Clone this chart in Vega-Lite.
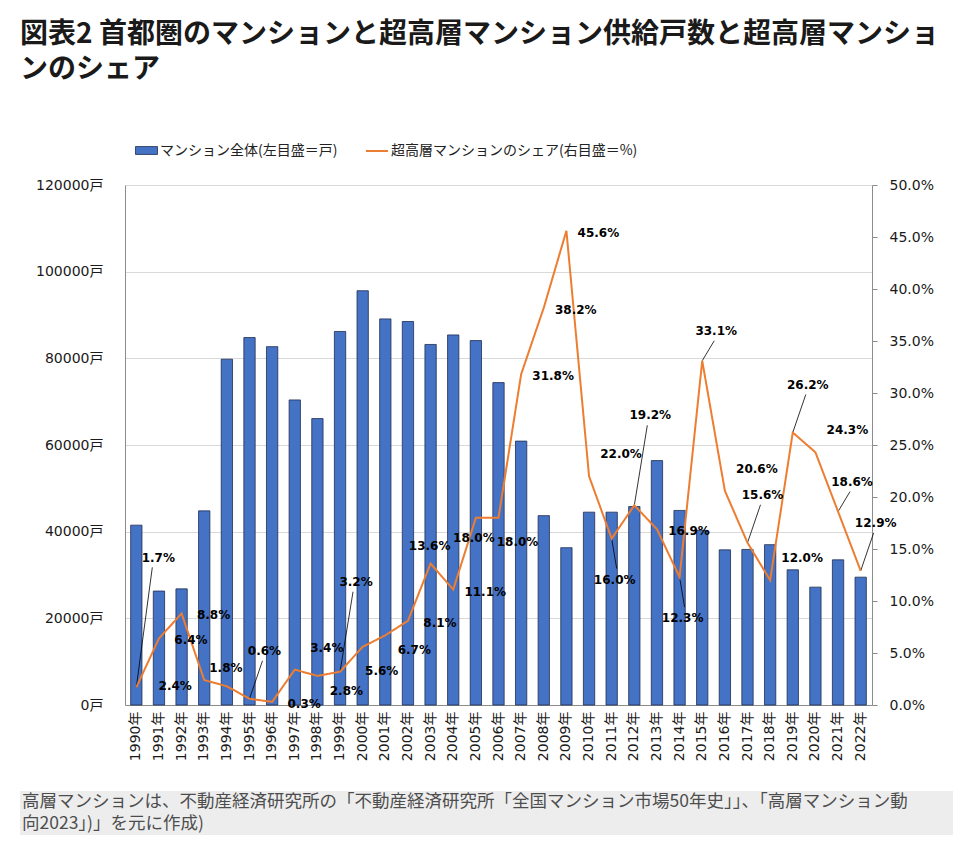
{
  "$schema": "https://vega.github.io/schema/vega-lite/v6.json",
  "padding": {"left": 20, "top": 21, "right": 8, "bottom": 5},
  "autosize": {"type": "pad"},
  "width": 747,
  "height": 520,
  "config": {
    "view": {"stroke": null},
    "style": {
      "lbl": {"font": "DejaVu Sans", "fontSize": 12, "fontWeight": "bold", "fill": "#262626", "align": "center", "baseline": "middle"},
      "lead": {"stroke": "#404040", "strokeWidth": 0.8}
    }
  },
  "title": {
    "text": ["図表2 首都圏のマンションと超高層マンション供給戸数と超高層マンショ", "ンのシェア"],
    "anchor": "start",
    "frame": "group",
    "dx": -105,
    "offset": 55,
    "font": "Noto Sans CJK JP",
    "fontSize": 28,
    "fontWeight": "bold",
    "color": "#1a1a1a",
    "lineHeight": 35
  },
  "data": {
    "values": [
      {"year": "1990年", "units": 41500, "share": 0.017},
      {"year": "1991年", "units": 26300, "share": 0.064},
      {"year": "1992年", "units": 26800, "share": 0.088},
      {"year": "1993年", "units": 44800, "share": 0.024},
      {"year": "1994年", "units": 79800, "share": 0.018},
      {"year": "1995年", "units": 84800, "share": 0.006},
      {"year": "1996年", "units": 82700, "share": 0.003},
      {"year": "1997年", "units": 70400, "share": 0.034},
      {"year": "1998年", "units": 66100, "share": 0.028},
      {"year": "1999年", "units": 86200, "share": 0.032},
      {"year": "2000年", "units": 95600, "share": 0.056},
      {"year": "2001年", "units": 89100, "share": 0.067},
      {"year": "2002年", "units": 88500, "share": 0.081},
      {"year": "2003年", "units": 83200, "share": 0.136},
      {"year": "2004年", "units": 85400, "share": 0.111},
      {"year": "2005年", "units": 84100, "share": 0.180},
      {"year": "2006年", "units": 74400, "share": 0.180},
      {"year": "2007年", "units": 60900, "share": 0.318},
      {"year": "2008年", "units": 43700, "share": 0.382},
      {"year": "2009年", "units": 36300, "share": 0.456},
      {"year": "2010年", "units": 44500, "share": 0.220},
      {"year": "2011年", "units": 44500, "share": 0.160},
      {"year": "2012年", "units": 45800, "share": 0.192},
      {"year": "2013年", "units": 56400, "share": 0.169},
      {"year": "2014年", "units": 44900, "share": 0.123},
      {"year": "2015年", "units": 40300, "share": 0.331},
      {"year": "2016年", "units": 35800, "share": 0.206},
      {"year": "2017年", "units": 35900, "share": 0.156},
      {"year": "2018年", "units": 37000, "share": 0.120},
      {"year": "2019年", "units": 31200, "share": 0.262},
      {"year": "2020年", "units": 27200, "share": 0.243},
      {"year": "2021年", "units": 33500, "share": 0.186},
      {"year": "2022年", "units": 29500, "share": 0.129}
    ]
  },
  "encoding": {
    "x": {
      "field": "year",
      "type": "ordinal",
      "sort": null,
      "scale": {"paddingInner": 0.5, "paddingOuter": 0.25},
      "axis": {
        "title": null,
        "labelAngle": -90,
        "labelFont": "DejaVu Sans, Noto Sans CJK JP",
        "labelFontSize": 14,
        "labelColor": "#1a1a1a",
        "labelPadding": 6,
        "ticks": false,
        "tickSize": 0,
        "domainColor": "#8c8c8c",
        "grid": false
      }
    }
  },
  "layer": [
    {
      "mark": {"type": "bar", "stroke": "#1f2d50", "strokeWidth": 0.8},
      "encoding": {
        "y": {
          "field": "units",
          "type": "quantitative",
          "scale": {"domain": [0, 120000], "nice": false},
          "axis": {
            "title": null,
            "values": [0, 20000, 40000, 60000, 80000, 100000, 120000],
            "labelExpr": "datum.value + '戸'",
            "labelFont": "DejaVu Sans, Noto Sans CJK JP",
            "labelFontSize": 14,
            "labelColor": "#1a1a1a",
            "labelPadding": 22,
            "ticks": false,
            "tickSize": 0,
            "grid": true,
            "gridColor": "#d9d9d9",
            "domainColor": "#8c8c8c"
          }
        },
        "fill": {
          "datum": "マンション全体(左目盛＝戸)",
          "scale": {"domain": ["マンション全体(左目盛＝戸)"], "range": ["#4472C4"]},
          "legend": {
            "orient": "none",
            "legendX": 10,
            "legendY": -46,
            "title": null,
            "padding": 0,
            "symbolType": "M-1,-0.36H1V0.36H-1Z",
            "symbolSize": 484,
            "symbolStrokeColor": "#1f2d50",
            "symbolStrokeWidth": 0.8,
            "labelFont": "Noto Sans CJK JP",
            "labelFontSize": 14,
            "labelColor": "#222222",
            "labelOffset": 2,
            "labelLimit": 400
          }
        }
      }
    },
    {
      "encoding": {
        "y": {
          "field": "share",
          "type": "quantitative",
          "scale": {"domain": [0, 0.5], "nice": false},
          "axis": {
            "orient": "right",
            "title": null,
            "values": [0, 0.05, 0.1, 0.15, 0.2, 0.25, 0.3, 0.35, 0.4, 0.45, 0.5],
            "format": ".1%",
            "labelFont": "DejaVu Sans",
            "labelFontSize": 14,
            "labelColor": "#1a1a1a",
            "labelPadding": 12,
            "ticks": true,
            "tickSize": 5,
            "tickColor": "#8c8c8c",
            "domainColor": "#8c8c8c",
            "grid": false
          }
        }
      },
      "layer": [
        {
          "transform": [{"filter": {"field": "year", "oneOf": ["1995年", "2017年", "2019年", "2022年"]}}],
          "mark": {"type": "rule", "style": "lead", "x2Offset": 13, "y2Offset": -38},
          "encoding": {"x2": {"field": "year", "bandPosition": 0.5}, "y2": {"field": "share"}}
        },
        {
          "transform": [{"filter": {"field": "year", "oneOf": ["2015年", "2021年"]}}],
          "mark": {"type": "rule", "style": "lead", "x2Offset": 12, "y2Offset": -20},
          "encoding": {"x2": {"field": "year", "bandPosition": 0.5}, "y2": {"field": "share"}}
        },
        {
          "transform": [{"filter": {"field": "year", "oneOf": ["1999年", "2012年"]}}],
          "mark": {"type": "rule", "style": "lead", "x2Offset": 13, "y2Offset": -80},
          "encoding": {"x2": {"field": "year", "bandPosition": 0.5}, "y2": {"field": "share"}}
        },
        {
          "transform": [{"filter": {"field": "year", "oneOf": ["2011年", "2014年"]}}],
          "mark": {"type": "rule", "style": "lead", "x2Offset": 5, "y2Offset": 30},
          "encoding": {"x2": {"field": "year", "bandPosition": 0.5}, "y2": {"field": "share"}}
        },
        {
          "transform": [{"filter": {"field": "year", "oneOf": ["1990年"]}}],
          "mark": {"type": "rule", "style": "lead", "x2Offset": 16, "y2Offset": -120},
          "encoding": {"x2": {"field": "year", "bandPosition": 0.5}, "y2": {"field": "share"}}
        },
        {
          "mark": {"type": "line", "strokeWidth": 2},
          "encoding": {
            "stroke": {
              "datum": "超高層マンションのシェア(右目盛＝%)",
              "scale": {"domain": ["超高層マンションのシェア(右目盛＝%)"], "range": ["#ED7D31"]},
              "legend": {
                "orient": "none",
                "legendX": 240,
                "legendY": -46,
                "title": null,
                "padding": 0,
                "symbolType": "M-1,0H1",
                "symbolSize": 484,
                "symbolStrokeWidth": 2,
                "labelFont": "Noto Sans CJK JP",
                "labelFontSize": 14,
                "labelColor": "#222222",
                "labelOffset": 2,
                "labelLimit": 400
              }
            },
            "strokeDash": {
              "datum": "出典",
              "scale": {"domain": ["出典"], "range": [[1, 0]]},
              "legend": {
                "orient": "none",
                "legendX": -105,
                "legendY": 606,
                "title": ["高層マンションは、不動産経済研究所の「不動産経済研究所「全国マンション市場50年史」」、「高層マンション動", "向2023」)」を元に作成)"],
                "titleFont": "Noto Sans CJK JP",
                "titleFontSize": 17.5,
                "titleFontWeight": "normal",
                "titleColor": "#4d4d4d",
                "titleLineHeight": 22,
                "titleLimit": 1000,
                "titlePadding": 0,
                "titleBaseline": "top",
                "fillColor": "#ededed",
                "padding": 2,
                "symbolOpacity": 0,
                "symbolStrokeWidth": 0,
                "symbolSize": 1,
                "symbolOffset": 924,
                "labelExpr": "''",
                "labelFontSize": 1
              }
            }
          }
        },
        {
          "transform": [{"filter": {"field": "year", "oneOf": ["1991年", "1992年", "1996年", "2002年", "2004年", "2007年", "2008年", "2009年", "2013年"]}}],
          "mark": {"type": "text", "style": "lbl", "dx": 32, "dy": 2},
          "encoding": {"text": {"field": "share", "format": ".1%"}}
        },
        {
          "transform": [{"filter": {"field": "year", "oneOf": ["1998年", "2001年"]}}],
          "mark": {"type": "text", "style": "lbl", "dx": 29, "dy": 15},
          "encoding": {"text": {"field": "share", "format": ".1%"}}
        },
        {
          "transform": [{"filter": {"field": "year", "oneOf": ["2000年", "2006年"]}}],
          "mark": {"type": "text", "style": "lbl", "dx": 19, "dy": 24},
          "encoding": {"text": {"field": "share", "format": ".1%"}}
        },
        {
          "transform": [{"filter": {"field": "year", "oneOf": ["1997年", "2010年", "2016年", "2018年", "2020年"]}}],
          "mark": {"type": "text", "style": "lbl", "dx": 32, "dy": -22},
          "encoding": {"text": {"field": "share", "format": ".1%"}}
        },
        {
          "transform": [{"filter": {"field": "year", "oneOf": ["1993年"]}}],
          "mark": {"type": "text", "style": "lbl", "dx": -29, "dy": 6},
          "encoding": {"text": {"field": "share", "format": ".1%"}}
        },
        {
          "transform": [{"filter": {"field": "year", "oneOf": ["1994年", "2003年"]}}],
          "mark": {"type": "text", "style": "lbl", "dx": -1, "dy": -18},
          "encoding": {"text": {"field": "share", "format": ".1%"}}
        },
        {
          "transform": [{"filter": {"field": "year", "oneOf": ["2005年"]}}],
          "mark": {"type": "text", "style": "lbl", "dx": -2, "dy": 20},
          "encoding": {"text": {"field": "share", "format": ".1%"}}
        },
        {
          "transform": [{"filter": {"field": "year", "oneOf": ["1995年", "2017年", "2019年", "2022年"]}}],
          "mark": {"type": "text", "style": "lbl", "dx": 15, "dy": -48},
          "encoding": {"text": {"field": "share", "format": ".1%"}}
        },
        {
          "transform": [{"filter": {"field": "year", "oneOf": ["2015年", "2021年"]}}],
          "mark": {"type": "text", "style": "lbl", "dx": 14, "dy": -30},
          "encoding": {"text": {"field": "share", "format": ".1%"}}
        },
        {
          "transform": [{"filter": {"field": "year", "oneOf": ["1999年", "2012年"]}}],
          "mark": {"type": "text", "style": "lbl", "dx": 16, "dy": -90},
          "encoding": {"text": {"field": "share", "format": ".1%"}}
        },
        {
          "transform": [{"filter": {"field": "year", "oneOf": ["2011年", "2014年"]}}],
          "mark": {"type": "text", "style": "lbl", "dx": 3, "dy": 41},
          "encoding": {"text": {"field": "share", "format": ".1%"}}
        },
        {
          "transform": [{"filter": {"field": "year", "oneOf": ["1990年"]}}],
          "mark": {"type": "text", "style": "lbl", "dx": 22, "dy": -129},
          "encoding": {"text": {"field": "share", "format": ".1%"}}
        }
      ]
    }
  ],
  "resolve": {"scale": {"y": "independent"}}
}
